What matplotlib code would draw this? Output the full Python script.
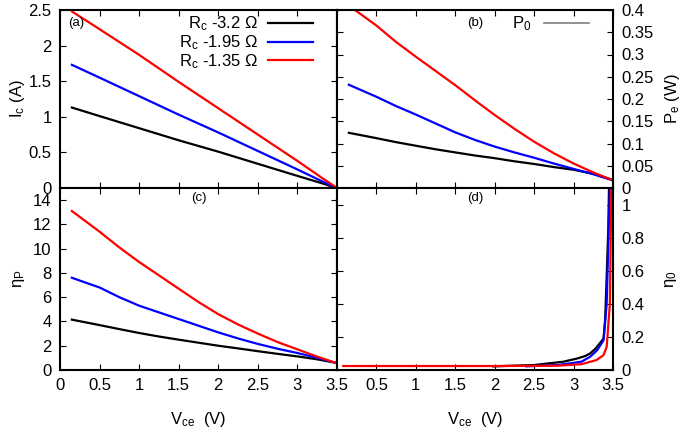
import matplotlib
matplotlib.use('Agg')
import matplotlib.pyplot as plt
from matplotlib.lines import Line2D

plt.rcParams['font.family'] = ['Liberation Sans', 'DejaVu Sans']
plt.rcParams['mathtext.default'] = 'regular'
plt.rcParams['font.size'] = 12

labels = ['R$_c$ -3.2 Ω', 'R$_c$ -1.95 Ω', 'R$_c$ -1.35 Ω']
colors = ['black', 'blue', 'red']

# (a) collector current
v_a = [0.15, 0.5, 1.0, 1.5, 2.0, 2.5, 3.0, 3.3, 3.5]
ic_black = [1.13, 1.01, 0.84, 0.67, 0.51, 0.34, 0.17, 0.07, 0.0]
ic_blue = [1.73, 1.55, 1.29, 1.03, 0.78, 0.52, 0.26, 0.10, 0.0]
ic_red = [2.48, 2.23, 1.87, 1.49, 1.12, 0.75, 0.38, 0.15, 0.0]

# (b) power
v_b = [0.15, 0.5, 0.75, 1.0, 1.25, 1.5, 1.75, 2.0, 2.25, 2.5, 2.75, 3.0, 3.25, 3.5]
pe_black = [0.124, 0.112, 0.103, 0.095, 0.087, 0.080, 0.073, 0.067, 0.060,
            0.054, 0.047, 0.041, 0.032, 0.018]
pe_blue = [0.232, 0.205, 0.184, 0.165, 0.145, 0.125, 0.108, 0.093, 0.080,
           0.068, 0.055, 0.043, 0.031, 0.017]
pe_red = [0.41, 0.365, 0.328, 0.295, 0.263, 0.231, 0.197, 0.164, 0.133,
          0.104, 0.078, 0.055, 0.035, 0.017]

# (c) eta_P
v_c = [0.15, 0.5, 0.75, 1.0, 1.25, 1.5, 1.75, 2.0, 2.25, 2.5, 2.75, 3.0, 3.25, 3.48]
etap_black = [4.15, 3.7, 3.37, 3.05, 2.76, 2.5, 2.25, 2.0, 1.78, 1.55, 1.33, 1.12, 0.88, 0.6]
etap_blue = [7.6, 6.8, 6.0, 5.3, 4.75, 4.2, 3.65, 3.1, 2.6, 2.15, 1.75, 1.4, 1.0, 0.6]
etap_red = [13.1, 11.4, 10.1, 8.9, 7.8, 6.7, 5.6, 4.6, 3.75, 3.0, 2.3, 1.7, 1.1, 0.6]

# (d) eta_0
v_d_black = [1.98, 2.5, 2.87, 3.05, 3.15, 3.21, 3.28, 3.33, 3.38, 3.40, 3.42, 3.44, 3.45]
eta0_black = [0.022, 0.03, 0.05, 0.07, 0.085, 0.10, 0.13, 0.16, 0.19, 0.3, 0.57, 0.85, 1.12]
v_d_blue = [2.40, 2.8, 3.1, 3.21, 3.30, 3.38, 3.42, 3.44, 3.46]
eta0_blue = [0.022, 0.03, 0.05, 0.08, 0.12, 0.18, 0.40, 0.75, 1.12]
v_d_red = [0.08, 1.0, 2.0, 2.8, 3.1, 3.29, 3.38, 3.42, 3.46, 3.48]
eta0_red = [0.024, 0.024, 0.024, 0.026, 0.035, 0.06, 0.09, 0.14, 0.4, 1.12]

fig = plt.figure(figsize=(6.85, 4.3), dpi=100)
W, H = 685, 430
def box(x0, y0, x1, y1):
    return [x0 / W, 1 - y1 / H, (x1 - x0) / W, (y1 - y0) / H]

ax_a = fig.add_axes(box(60, 10, 337, 188))
ax_b = fig.add_axes(box(337, 10, 613, 188))
ax_c = fig.add_axes(box(60, 188, 337, 370))
ax_d = fig.add_axes(box(337, 188, 613, 370))

for ax in (ax_a, ax_b, ax_c, ax_d):
    ax.set_xlim(0, 3.5)
    ax.set_xticks([0, 0.5, 1, 1.5, 2, 2.5, 3, 3.5])
    ax.set_xticklabels(['0', '0.5', '1', '1.5', '2', '2.5', '3', '3.5'])
    ax.tick_params(direction='in', top=True, right=True, length=4, width=0.8, pad=6)
    for s in ax.spines.values():
        s.set_linewidth(1.5)

for ax in (ax_a, ax_b):
    ax.tick_params(labelbottom=False)
for ax in (ax_b, ax_d):
    ax.tick_params(labelleft=False, labelright=True)
    ax.yaxis.set_label_position('right')
ax_d.set_xticklabels(['', '0.5', '1', '1.5', '2', '2.5', '3', '3.5'])

lw = 1.6
for y, c, l in zip([ic_black, ic_blue, ic_red], colors, labels):
    ax_a.plot(v_a, y, color=c, lw=lw, label=l)
ax_a.set_ylim(0, 2.5)
ax_a.set_yticks([0, 0.5, 1, 1.5, 2, 2.5])
ax_a.set_yticklabels(['0', '0.5', '1', '1.5', '2', '2.5'])
ax_a.set_ylabel('I$_c$ (A)')
ax_a.yaxis.set_label_coords(-0.12, 0.5)
ax_a.legend(loc='upper right', bbox_to_anchor=(0.95, 1.03), frameon=False,
            markerfirst=False, handlelength=2.7, labelspacing=0.0,
            borderaxespad=0.2, handletextpad=0.6)
ax_a.text(0.03, 0.96, '(a)', transform=ax_a.transAxes, fontsize=9.5, va='top')

for y, c in zip([pe_black, pe_blue, pe_red], colors):
    ax_b.plot(v_b, y, color=c, lw=lw)
ax_b.set_ylim(0, 0.4)
ax_b.set_yticks([0, 0.05, 0.1, 0.15, 0.2, 0.25, 0.3, 0.35, 0.4])
ax_b.set_yticklabels(['0', '0.05', '0.1', '0.15', '0.2', '0.25', '0.3', '0.35', '0.4'])
ax_b.set_ylabel('P$_e$ (W)')
ax_b.yaxis.set_label_coords(1.18, 0.5)
ax_b.legend(handles=[Line2D([], [], color='gray', lw=1.2)], labels=['P$_0$'],
            loc='upper right', bbox_to_anchor=(0.95, 1.03), frameon=False,
            markerfirst=False, handlelength=2.7, borderaxespad=0.2, handletextpad=0.8)
ax_b.text(0.47, 0.96, '(b)', transform=ax_b.transAxes, fontsize=9.5, va='top')

for y, c in zip([etap_black, etap_blue, etap_red], colors):
    ax_c.plot(v_c, y, color=c, lw=lw)
ax_c.set_ylim(0, 15)
ax_c.set_yticks([0, 2, 4, 6, 8, 10, 12, 14])
ax_c.set_ylabel('η$_P$')
ax_c.yaxis.set_label_coords(-0.12, 0.5)
ax_c.set_xlabel('V$_{ce}$  (V)', labelpad=12)
ax_c.text(0.5, 0.98, '(c)', transform=ax_c.transAxes, fontsize=9.5, va='top', ha='center')

for x, y, c in zip([v_d_black, v_d_blue, v_d_red], [eta0_black, eta0_blue, eta0_red], colors):
    ax_d.plot(x, y, color=c, lw=lw)
ax_d.set_ylim(0, 1.1)
ax_d.set_yticks([0, 0.2, 0.4, 0.6, 0.8, 1.0])
ax_d.set_yticklabels(['0', '0.2', '0.4', '0.6', '0.8', '1'])
ax_d.set_ylabel('η$_0$')
ax_d.yaxis.set_label_coords(1.18, 0.5)
ax_d.set_xlabel('V$_{ce}$  (V)', labelpad=12)
ax_d.text(0.5, 0.98, '(d)', transform=ax_d.transAxes, fontsize=9.5, va='top', ha='center')

fig.savefig('out.png', dpi=100)
